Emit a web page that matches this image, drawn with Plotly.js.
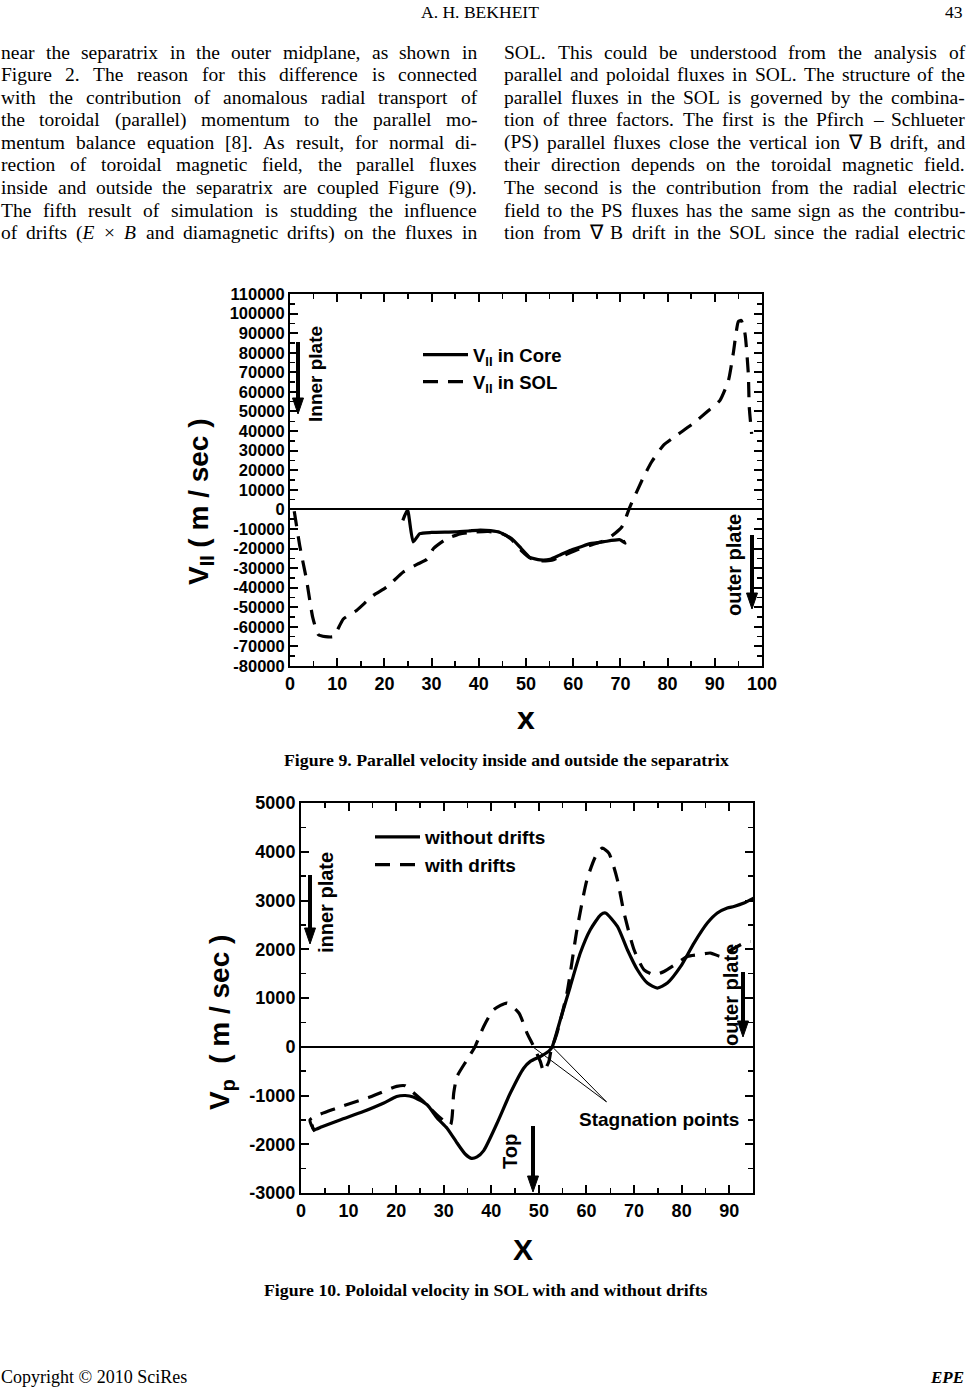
<!DOCTYPE html>
<html><head><meta charset="utf-8">
<script src="https://cdn.plot.ly/plotly-3.0.1.min.js"></script>
<style>html,body{margin:0;padding:0;background:#fff}</style>
</head><body><div id="chart" style="width:966px;height:1387px"></div>
<script>
// ---------- Figure 9 data ----------
const fig9CoreX = [23.9, 24.9, 26.1, 27.5, 30, 35, 38, 40.3, 42.5, 44.5, 47, 49, 50.8, 53, 55.1, 57, 59.3, 61.5, 63.6, 66.5, 69.9, 71.0, 70.6];
const fig9CoreY = [-5600, -300, -16600, -12400, -11800, -11500, -11000, -10600, -10900, -11800, -15000, -20000, -24500, -25800, -25500, -23500, -21000, -19200, -17500, -16500, -15500, -17300, -16000];
const fig9SolX = [0.9, 2.1, 3.5, 4.8, 6.0, 7.5, 9.2, 11.3, 14.1, 17.6, 20.5, 24, 27, 29, 30.4, 33.2, 36, 38.1, 42, 45, 47, 49, 51, 53, 55.5, 58, 61, 64, 66, 67.4, 70.3, 72, 74.9, 76.6, 79.1, 81.9, 85.4, 88.3, 91.1, 92.9, 93.9, 95.0, 95.6, 96.4, 97.1, 97.3, 97.8];
const fig9SolY = [-1000, -19000, -36000, -55000, -64000, -65000, -65000, -56000, -51600, -44000, -39700, -32000, -28000, -25500, -20000, -15000, -12500, -11800, -11300, -12500, -15500, -21000, -25000, -26300, -26000, -23500, -20500, -18000, -16500, -15000, -9000, 1200, 16500, 24200, 32700, 37800, 43800, 49700, 55700, 65900, 79500, 96000, 96500, 89700, 69300, 52200, 38600];
const fig9XTicks = [0, 10, 20, 30, 40, 50, 60, 70, 80, 90, 100];
const fig9XLabels = ['0', '10', '20', '30', '40', '50', '60', '70', '80', '90', '100'];
const fig9YTicks = [-80000, -70000, -60000, -50000, -40000, -30000, -20000, -10000, 0, 10000, 20000, 30000, 40000, 50000, 60000, 70000, 80000, 90000, 100000, 110000];
const fig9YLabels = ['-80000', '-70000', '-60000', '-50000', '-40000', '-30000', '-20000', '-10000', '0', '10000', '20000', '30000', '40000', '50000', '60000', '70000', '80000', '90000', '100000', '110000'];

// ---------- Figure 10 data ----------
const fig10NoDriftX = [2.3, 2.7, 4.4, 8.2, 13.1, 17.3, 20.1, 21.9, 23.6, 26.5, 28.6, 30.7, 32.8, 34.5, 35.8, 37, 38.4, 41.2, 44, 46.8, 48.2, 50.3, 52.1, 52.8, 54.5, 56.6, 58.7, 60.8, 63, 64, 66.5, 68.6, 70.7, 72.8, 74.9, 77, 79.8, 82.6, 85.4, 87.5, 89.6, 91, 93.1, 95.2];
const fig10NoDriftY = [-1600, -1700, -1640, -1500, -1330, -1160, -1020, -1000, -1030, -1190, -1460, -1670, -1975, -2200, -2290, -2260, -2130, -1570, -950, -440, -300, -200, -90, 0, 554, 1237, 1922, 2400, 2708, 2743, 2468, 1990, 1579, 1306, 1204, 1306, 1647, 2127, 2537, 2743, 2845, 2878, 2947, 3050];
const fig10DriftX = [2.9, 1.9, 7.5, 14.5, 20.1, 21.9, 22.9, 26, 29.3, 31.4, 32.1, 32.8, 34.9, 36.6, 38.4, 40.5, 43.3, 45.8, 47.5, 48.9, 50.3, 51, 52.1, 52.5, 53.8, 55.9, 58, 60.1, 61.9, 63.3, 64.7, 66.5, 67.9, 70, 72.1, 74.2, 76.3, 79.1, 81.2, 83.3, 86.1, 88.2, 90.5, 93.1, 94.5];
const fig10DriftY = [-1737, -1497, -1258, -1032, -814, -800, -882, -1150, -1463, -1600, -950, -609, -267, 7, 417, 759, 896, 691, 281, 7, -301, -506, -301, -100, 280, 1101, 2400, 3425, 3903, 4075, 3973, 3425, 2743, 1990, 1579, 1477, 1545, 1716, 1853, 1887, 1922, 1853, 1990, 2127, 2160];
const fig10XTicks = [0, 10, 20, 30, 40, 50, 60, 70, 80, 90];
const fig10XLabels = ['0', '10', '20', '30', '40', '50', '60', '70', '80', '90'];
const fig10YTicks = [-3000, -2000, -1000, 0, 1000, 2000, 3000, 4000, 5000];
const fig10YLabels = ['-3000', '-2000', '-1000', '0', '1000', '2000', '3000', '4000', '5000'];
// stagnation points (zero crossings) and where the pointer lines meet near the label
const stagnationX = [48.7, 52.8];
const stagnationY = [0, 0];
const stagnationLabelX = 64.2, stagnationLabelY = -1130;

// ---------- Page text ----------
const leftLines = [
  'near the separatrix in the outer midplane, as shown in',
  'Figure 2. The reason for this difference is connected',
  'with the contribution of anomalous radial transport of',
  'the toroidal (parallel) momentum to the parallel mo-',
  'mentum balance equation [8]. As result, for normal di-',
  'rection of toroidal magnetic field, the parallel fluxes',
  'inside and outside the separatrix are coupled Figure (9).',
  'The fifth result of simulation is studding the influence',
  'of drifts (<i>E</i> × <i>B</i> and diamagnetic drifts) on the fluxes in'
];
const rightLines = [
  'SOL. This could be understood from the analysis of',
  'parallel and poloidal fluxes in SOL. The structure of the',
  'parallel fluxes in the SOL is governed by the combina-',
  'tion of three factors. The first is the Pfirch – Schlueter',
  '(PS) parallel fluxes close the vertical ion ∇ B drift, and',
  'their direction depends on the toroidal magnetic field.',
  'The second is the contribution from the radial electric',
  'field to the PS fluxes has the same sign as the contribu-',
  'tion from ∇ B drift in the SOL since the radial electric'
];
const headerText = 'A. H. BEKHEIT';
const pageNumber = '43';
const caption9 = '<b>Figure 9. Parallel velocity inside and outside the separatrix</b>';
const caption10 = '<b>Figure 10. Poloidal velocity in SOL with and without drifts</b>';
const footerLeft = 'Copyright © 2010 SciRes';
const footerRight = '<b><i>EPE</i></b>';

const W = 966, H = 1387;
const PX = x => x / W, PY = y => 1 - y / H;
const SERIF = 'Liberation Serif, Times New Roman, serif';
const SANS = 'Liberation Sans, Arial, sans-serif';
const ctx = document.createElement('canvas').getContext('2d');
function textWidth(t, size, weight) {
  ctx.font = (weight || 'normal') + ' ' + size + 'px "Liberation Serif"';
  return ctx.measureText(t.replace(/<[^>]+>/g, '')).width;
}
function fitSize(t, weight, target) {
  return target / textWidth(t, 100, weight) * 100;
}

const annotations = [];
const shapes = [];
function label(text, x, y, font, extra) {
  annotations.push(Object.assign({text, x: PX(x), y: PY(y), xref: 'paper', yref: 'paper',
    xanchor: 'center', yanchor: 'middle', showarrow: false, font}, extra || {}));
}

const BODY = 19.5;
function justify(lines, x0, x1, y0, dy) {
  lines.forEach((ln, i) => {
    const words = ln.split(' ');
    const ws = words.map(w => textWidth(w, BODY));
    const total = ws.reduce((a, b) => a + b, 0);
    const gap = Math.max(2, (x1 - x0 - total) / (words.length - 1));
    let x = x0;
    words.forEach((w, j) => {
      label(w, x, y0 + i * dy, {family: SERIF, size: BODY, color: '#000'}, {xanchor: 'left', borderpad: 0});
      x += ws[j] + gap;
    });
  });
}
justify(leftLines, 0, 476, 52, 22.6);
justify(rightLines, 503, 964, 52, 22.6);

const hs = fitSize(headerText, 'normal', 118);
label(headerText, 480, 12, {family: SERIF, size: hs, color: '#000'});
label(pageNumber, 964, 12, {family: SERIF, size: hs, color: '#000'}, {xanchor: 'right', borderpad: 0});
const cs = fitSize(caption9, 'bold', 445);
label(caption9, 506.5, 760, {family: SERIF, size: cs, color: '#000'});
label(caption10, 485.5, 1290, {family: SERIF, size: cs, color: '#000'});
label(footerLeft, 0, 1377, {family: SERIF, size: 18, color: '#000'}, {xanchor: 'left', borderpad: 0});
label(footerRight, 965, 1377, {family: SERIF, size: 17, color: '#000'}, {xanchor: 'right', borderpad: 0});

// axis titles
const boldSans = (s) => ({family: SANS, size: s, color: '#000', weight: 'bold'});
label('V<sub>II</sub> ( m / sec )', 200, 502, boldSans(28), {textangle: -90});
label('x', 526, 718, boldSans(32));
label('V<sub>p</sub>\u00A0\u00A0( m / sec )', 221, 1023, boldSans(28), {textangle: -90});
label('X', 523, 1249, boldSans(30));

// in-plot labels
label('Inner plate', 315, 374, boldSans(19), {textangle: -90});
label('outer plate', 734, 565, boldSans(20), {textangle: -90});
label('inner plate', 326, 903, boldSans(20), {textangle: -90});
label('outer plate', 731, 995, boldSans(20), {textangle: -90});
label('Top', 510, 1152, boldSans(20), {textangle: -90});
label('Stagnation points', 658.5, 1119, boldSans(19));

// thick downward arrows (decoration) as shapes
function arrow(x, yTail, yTip) {
  shapes.push({type: 'line', xref: 'paper', yref: 'paper', x0: PX(x), x1: PX(x), y0: PY(yTail), y1: PY(yTip - 12),
    line: {color: '#000', width: 4}});
  shapes.push({type: 'path', xref: 'paper', yref: 'paper',
    path: `M ${PX(x - 5.5)},${PY(yTip - 16)} L ${PX(x + 5.5)},${PY(yTip - 16)} L ${PX(x)},${PY(yTip)} Z`,
    fillcolor: '#000', line: {color: '#000', width: 1}});
}
arrow(298, 342, 414);
arrow(752, 535, 609);
arrow(310, 875, 944);
arrow(743, 972, 1037);
arrow(533, 1126, 1192);
// stagnation pointer lines
stagnationX.forEach((sx, i) => {
  shapes.push({type: 'line', xref: 'x2', yref: 'y2', x0: sx, y0: stagnationY[i], x1: stagnationLabelX, y1: stagnationLabelY,
    line: {color: '#000', width: 1}});
});

const DASH = '15px,10px';
const traces = [
  {x: fig9CoreX, y: fig9CoreY, xaxis: 'x', yaxis: 'y', mode: 'lines', name: 'V<sub>II</sub> in Core',
   line: {color: '#000', width: 3.2, shape: 'spline', smoothing: 0.5}, legend: 'legend'},
  {x: fig9SolX, y: fig9SolY, xaxis: 'x', yaxis: 'y', mode: 'lines', name: 'V<sub>II</sub> in SOL',
   line: {color: '#000', width: 3.2, dash: DASH, shape: 'spline', smoothing: 0.5}, legend: 'legend'},
  {x: fig10NoDriftX, y: fig10NoDriftY, xaxis: 'x2', yaxis: 'y2', mode: 'lines', name: 'without drifts',
   line: {color: '#000', width: 3.2, shape: 'spline', smoothing: 0.6}, legend: 'legend2'},
  {x: fig10DriftX, y: fig10DriftY, xaxis: 'x2', yaxis: 'y2', mode: 'lines', name: 'with drifts',
   line: {color: '#000', width: 3.2, dash: DASH, shape: 'spline', smoothing: 0.6}, legend: 'legend2'}
];

function xAxis(domain, range, vals, text, anchor) {
  return {domain, range, anchor, tickmode: 'array', tickvals: vals, ticktext: text,
    ticks: 'inside', ticklen: 8, tickwidth: 2, tickcolor: '#000',
    minor: {tickmode: 'linear', tick0: 0, dtick: 5, ticks: 'inside', ticklen: 5, tickwidth: 1.5, tickcolor: '#000', showgrid: false},
    showline: true, linewidth: 2, linecolor: '#000', mirror: 'ticks', showgrid: false, zeroline: false,
    tickfont: boldSans(18), fixedrange: true};
}
function yAxis(domain, range, vals, text, minorStep, anchor, fs) {
  return {domain, range, anchor, tickmode: 'array', tickvals: vals, ticktext: text,
    ticks: 'inside', ticklen: 8, tickwidth: 2, tickcolor: '#000',
    minor: {tickmode: 'linear', tick0: 0, dtick: minorStep, ticks: 'inside', ticklen: 5, tickwidth: 1.5, tickcolor: '#000', showgrid: false},
    showline: true, linewidth: 2, linecolor: '#000', mirror: 'ticks', showgrid: false,
    zeroline: true, zerolinecolor: '#000', zerolinewidth: 2,
    tickfont: boldSans(fs), fixedrange: true};
}

const layout = {
  width: W, height: H, autosize: false,
  margin: {l: 0, r: 0, t: 0, b: 0, pad: 0},
  paper_bgcolor: '#fff', plot_bgcolor: 'rgba(0,0,0,0)',
  xaxis: xAxis([290 / W, 762 / W], [0, 100], fig9XTicks, fig9XLabels, 'y'),
  yaxis: yAxis([1 - 666 / H, 1 - 294 / H], [-80000, 110000], fig9YTicks, fig9YLabels, 5000, 'x', 16.5),
  xaxis2: xAxis([301 / W, 753 / W], [0, 95], fig10XTicks, fig10XLabels, 'y2'),
  yaxis2: yAxis([1 - 1193 / H, 1 - 803 / H], [-3000, 5000], fig10YTicks, fig10YLabels, 500, 'x2', 18),
  showlegend: true,
  legend: {x: PX(418), y: PY(336), xanchor: 'left', yanchor: 'top', bgcolor: 'rgba(0,0,0,0)',
    font: boldSans(18.5), itemwidth: 45, tracegroupgap: 0},
  legend2: {x: PX(370), y: PY(818), xanchor: 'left', yanchor: 'top', bgcolor: 'rgba(0,0,0,0)',
    font: boldSans(19), itemwidth: 45, tracegroupgap: 0},
  annotations, shapes
};

Plotly.newPlot('chart', traces, layout, {staticPlot: true, displayModeBar: false});
</script></body></html>
